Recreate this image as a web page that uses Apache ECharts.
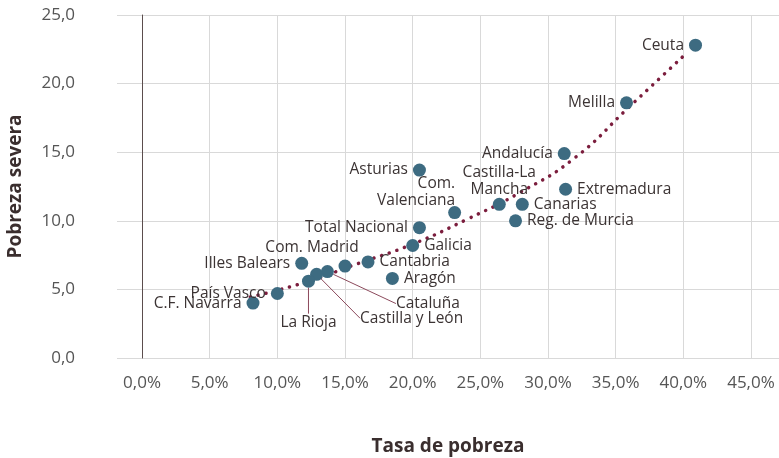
<!DOCTYPE html>
<html>
<head>
<meta charset="utf-8">
<script src="https://cdn.jsdelivr.net/npm/echarts@6/dist/echarts.min.js"></script>
<style>
html, body { margin: 0; padding: 0; background: #fff; }
#main { width: 779px; height: 458px; }
</style>
</head>
<body>
<div id="main"></div>
<script>
// datos por comunidad
var regiones = ['Ceuta', 'Melilla', 'Andalucía', 'Extremadura', 'Canarias', 'Castilla-La\nMancha',
    'Reg. de Murcia', 'Com.\nValenciana', 'Asturias', 'Total Nacional', 'Galicia', 'Aragón',
    'Cantabria', 'Com. Madrid', 'Illes Balears', 'Cataluña', 'Castilla y León', 'La Rioja',
    'País Vasco', 'C.F. Navarra'];
var tasaPobreza = [40.9, 35.8, 31.2, 31.3, 28.1, 26.4, 27.6, 23.1, 20.5, 20.5, 20.0, 18.5,
    16.7, 15.0, 11.8, 13.7, 12.9, 12.3, 10.0, 8.2];
var pobrezaSevera = [22.8, 18.6, 14.9, 12.3, 11.2, 11.2, 10.0, 10.6, 13.7, 9.5, 8.2, 5.8,
    7.0, 6.7, 6.9, 6.3, 6.1, 5.6, 4.7, 4.0];

// linea de tendencia
var tendenciaX = [8.0, 12, 16, 20, 24, 28, 32, 36, 40];
var tendenciaY = [4.45, 5.5, 6.9, 8.3, 10.1, 12.1, 14.6, 18.3, 22.0];

var ticksX = [0, 5, 10, 15, 20, 25, 30, 35, 40, 45];

// colocacion de etiquetas: [posicion, dx, dy, linea guia]
var colocacion = {
    'Ceuta': ['left', 0, 0],
    'Melilla': ['left', 0, 0],
    'Andalucía': ['left', 0, 0],
    'Extremadura': ['right', 0, 0],
    'Canarias': ['right', 0, 0],
    'Castilla-La\nMancha': ['top', 0, 5],
    'Reg. de Murcia': ['right', 0, 0],
    'Com.\nValenciana': ['left', 12, -20],
    'Asturias': ['left', 0, 0],
    'Total Nacional': ['left', 0, 0],
    'Galicia': ['right', 0, 0],
    'Aragón': ['right', 0, 0],
    'Cantabria': ['right', 0, 0],
    'Com. Madrid': ['top', -33, 2],
    'Illes Balears': ['left', 0, 0],
    'Cataluña': ['right', 57, 32, true],
    'Castilla y León': ['right', 32, 44, true],
    'La Rioja': ['bottom', 0, 21, true],
    'País Vasco': ['left', 0, 0],
    'C.F. Navarra': ['left', 0, 0]
};

var fuente = '"Open Sans", sans-serif';

function coma(v, d) {
    return v.toFixed(d).replace('.', ',');
}

var puntos = regiones.map(function (nombre, i) {
    var c = colocacion[nombre];
    var item = {
        name: nombre,
        value: [tasaPobreza[i], pobrezaSevera[i]],
        label: { position: c[0] }
    };
    if (c[3]) {
        item.labelLine = { show: true, lineStyle: { color: '#8c4a5c', width: 1 } };
    }
    return item;
});

var tendencia = tendenciaX.map(function (x, i) {
    return [x, tendenciaY[i]];
});

var myChart = echarts.init(document.getElementById('main'));

var option = {
    backgroundColor: '#fff',
    animation: false,
    grid: {
        left: 117,
        right: 0,
        top: 15,
        bottom: 100,
        containLabel: false,
        outerBoundsMode: 'none'
    },
    xAxis: {
        type: 'value',
        min: -1.85,
        max: 47.07,
        name: 'Tasa de pobreza',
        nameLocation: 'middle',
        nameGap: 79,
        nameTextStyle: { fontFamily: fuente, fontWeight: 'bold', fontSize: 19, color: '#3a2e2e' },
        axisLine: { show: false },
        axisTick: { show: false, customValues: ticksX },
        axisLabel: {
            customValues: ticksX,
            margin: 17,
            color: '#555',
            fontFamily: fuente,
            fontSize: 17,
            formatter: function (v) { return coma(v, 1) + '%'; }
        },
        splitLine: { show: true, lineStyle: { color: '#d9d9d9', width: 1 } }
    },
    yAxis: {
        type: 'value',
        min: 0,
        max: 25,
        interval: 5,
        name: 'Pobreza severa',
        nameLocation: 'middle',
        nameGap: 92,
        nameTextStyle: { fontFamily: fuente, fontWeight: 'bold', fontSize: 19, color: '#3a2e2e' },
        axisLine: { show: true, onZero: true, lineStyle: { color: '#5b4d4d', width: 1 } },
        axisTick: { show: false },
        axisLabel: {
            margin: 42,
            color: '#555',
            fontFamily: fuente,
            fontSize: 17,
            formatter: function (v) { return coma(v, 1); }
        },
        splitLine: { show: true, lineStyle: { color: '#d9d9d9', width: 1 } }
    },
    series: [{
        name: 'Tendencia',
        type: 'line',
        data: tendencia,
        smooth: true,
        showSymbol: false,
        silent: true,
        z: 1,
        lineStyle: { color: '#7b1d3d', width: 3.5, type: [0.1, 8], cap: 'round' }
    }, {
        name: 'Comunidades',
        type: 'scatter',
        data: puntos,
        symbolSize: 13,
        z: 3,
        itemStyle: { color: '#3d6b81', opacity: 1 },
        label: {
            show: true,
            formatter: '{b}',
            distance: 5,
            color: '#3b3333',
            fontFamily: fuente,
            fontSize: 15.5,
            lineHeight: 17
        },
        labelLayout: function (params) {
            var c = colocacion[regiones[params.dataIndex]];
            return { dx: c[1], dy: c[2] };
        }
    }]
};

myChart.setOption(option);
</script>
</body>
</html>
